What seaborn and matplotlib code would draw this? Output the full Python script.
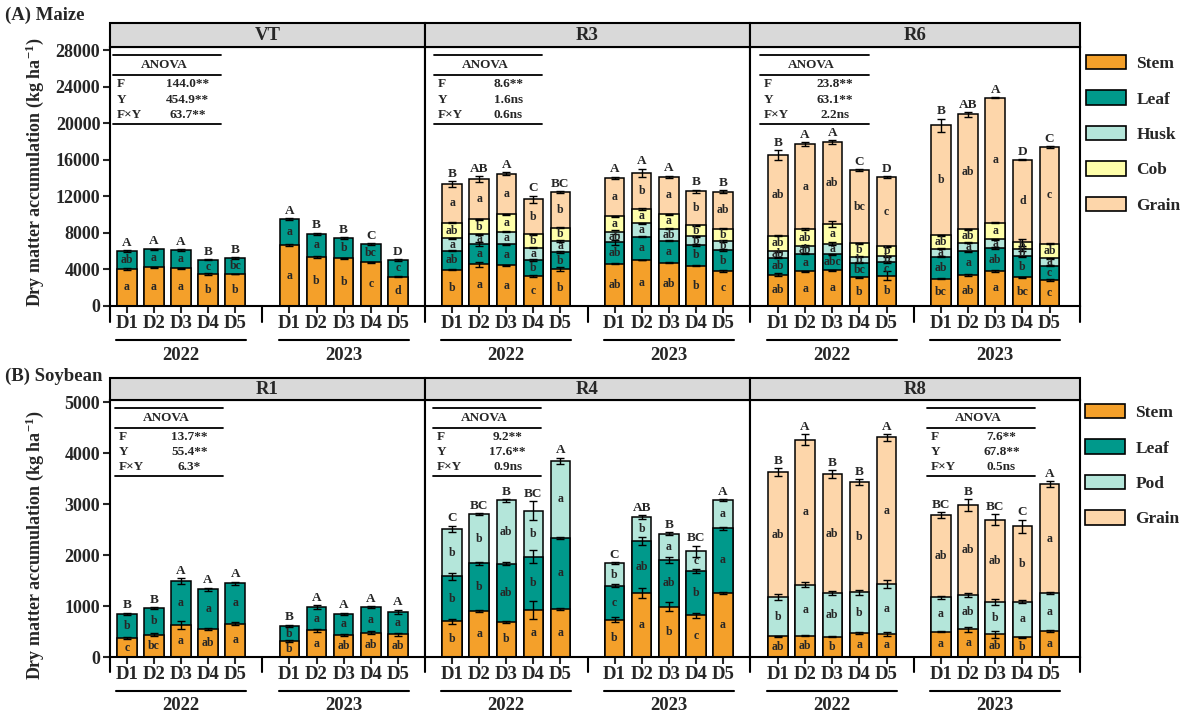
import numpy as np
import pandas as pd
import matplotlib
matplotlib.use("Agg")
import matplotlib.pyplot as plt
import seaborn as sns
from matplotlib.patches import Rectangle, Patch

# ---------------------------------------------------------------- data
DOSES = ["D1", "D2", "D3", "D4", "D5"]
YEARS = ["2022", "2023"]
POS = [0, 1, 2, 3, 4, 6, 7, 8, 9, 10]          # 2022 -> 0..4, 2023 -> 6..10

# Maize, VT
VT_STEM = [4080, 4260, 4150, 3500, 3500, 6670, 5360, 5210, 4770, 3210]
VT_LEAF = [1930, 1930, 1930, 1570, 1750, 2840, 2550, 2220, 1970, 1820]
VT_STEM_ERR = [90, 60, 50, 60, 50, 60, 60, 60, 60, 60]
VT_LEAF_ERR = [120, 90, 110, 80, 80, 120, 100, 90, 100, 90]
VT_STEM_SIG = ["a", "a", "a", "b", "b", "a", "b", "b", "c", "d"]
VT_LEAF_SIG = ["ab", "a", "a", "c", "bc", "a", "a", "b", "bc", "c"]
VT_TOTAL_SIG = ["A", "A", "A", "B", "B", "A", "B", "B", "C", "D"]
VT_ANOVA = ["144.0**", "454.9**", "63.7**"]

# Maize, R3
R3_STEM = [3970, 4550, 4440, 3320, 4010, 4630, 5030, 4740, 4410, 3830]
R3_LEAF = [2080, 2220, 2330, 1710, 1900, 2330, 2550, 2400, 2260, 2260]
R3_HUSK = [1350, 1090, 1350, 1350, 1200, 1170, 1460, 1310, 980, 1020]
R3_COB = [1710, 1640, 1930, 1460, 1460, 1680, 1570, 1600, 1200, 1350]
R3_GRAIN = [4230, 4410, 4440, 3830, 3860, 4230, 3970, 4080, 3680, 4040]
R3_STEM_ERR = [80, 250, 60, 120, 220, 80, 50, 60, 50, 80]
R3_LEAF_ERR = [60, 200, 60, 100, 120, 250, 60, 60, 60, 100]
R3_HUSK_ERR = [60, 60, 60, 60, 60, 200, 60, 60, 60, 60]
R3_COB_ERR = [60, 60, 60, 60, 60, 60, 60, 60, 60, 60]
R3_GRAIN_ERR = [300, 300, 150, 400, 100, 100, 450, 120, 180, 180]
R3_STEM_SIG = ["b", "a", "a", "c", "b", "ab", "a", "ab", "b", "c"]
R3_LEAF_SIG = ["ab", "a", "a", "b", "b", "ab", "a", "a", "b", "b"]
R3_HUSK_SIG = ["a", "a", "a", "a", "a", "ab", "a", "ab", "b", "b"]
R3_COB_SIG = ["ab", "b", "a", "b", "b", "a", "a", "a", "b", "b"]
R3_GRAIN_SIG = ["a", "a", "a", "b", "b", "a", "b", "a", "b", "ab"]
R3_TOTAL_SIG = ["B", "AB", "A", "C", "BC", "A", "A", "A", "B", "B"]
R3_ANOVA = ["8.6**", "1.6ns", "0.6ns"]

# Maize, R6
R6_STEM = [3420, 3790, 3930, 3130, 3320, 2990, 3390, 3830, 3130, 2840]
R6_LEAF = [1860, 1930, 1710, 1600, 1490, 2400, 2620, 2510, 2300, 1570]
R6_HUSK = [730, 840, 1170, 660, 620, 870, 910, 950, 770, 800]
R6_COB = [1680, 1860, 2190, 1490, 1090, 1490, 1460, 1820, 760, 1600]
R6_GRAIN = [8820, 9290, 8930, 7980, 7610, 12020, 12570, 13660, 9040, 10600]
R6_STEM_ERR = [150, 60, 60, 80, 500, 60, 80, 60, 60, 60]
R6_LEAF_ERR = [60, 60, 60, 60, 60, 60, 60, 60, 60, 60]
R6_HUSK_ERR = [60, 60, 150, 60, 60, 60, 60, 60, 150, 60]
R6_COB_ERR = [60, 60, 330, 60, 60, 60, 60, 60, 350, 60]
R6_GRAIN_ERR = [550, 200, 180, 80, 80, 730, 250, 60, 60, 100]
R6_STEM_SIG = ["ab", "a", "a", "b", "b", "bc", "ab", "a", "bc", "c"]
R6_LEAF_SIG = ["ab", "a", "abc", "bc", "c", "ab", "a", "ab", "b", "c"]
R6_HUSK_SIG = ["ab", "ab", "a", "b", "b", "a", "a", "a", "b", "a"]
R6_COB_SIG = ["ab", "ab", "a", "b", "b", "ab", "ab", "a", "b", "ab"]
R6_GRAIN_SIG = ["ab", "a", "ab", "bc", "c", "b", "ab", "a", "d", "c"]
R6_TOTAL_SIG = ["B", "A", "A", "C", "D", "B", "AB", "A", "D", "C"]
R6_ANOVA = ["23.8**", "63.1**", "2.2ns"]

# Soybean, R1
R1_STEM = [370, 440, 630, 545, 655, 310, 520, 430, 475, 445]
R1_LEAF = [480, 520, 860, 785, 790, 295, 460, 420, 505, 445]
R1_STEM_ERR = [15, 25, 75, 20, 35, 15, 20, 15, 30, 30]
R1_LEAF_ERR = [20, 15, 50, 30, 35, 25, 30, 20, 15, 40]
R1_STEM_SIG = ["c", "bc", "a", "ab", "a", "b", "a", "ab", "ab", "ab"]
R1_LEAF_SIG = ["b", "b", "a", "a", "a", "b", "a", "a", "a", "a"]
R1_TOTAL_SIG = ["B", "B", "A", "A", "A", "B", "A", "A", "A", "A"]
R1_ANOVA = ["13.7**", "55.4**", "6.3*"]

# Soybean, R4
R4_STEM = [705, 895, 690, 925, 945, 735, 1250, 990, 815, 1260]
R4_LEAF = [875, 945, 1135, 1045, 1395, 660, 1025, 915, 865, 1265]
R4_POD = [935, 965, 1245, 900, 1505, 440, 475, 510, 390, 550]
R4_STEM_ERR = [50, 20, 15, 180, 15, 55, 100, 90, 50, 20]
R4_LEAF_ERR = [70, 30, 30, 130, 20, 30, 70, 60, 40, 30]
R4_POD_ERR = [60, 20, 30, 185, 60, 20, 35, 30, 115, 20]
R4_STEM_SIG = ["b", "a", "b", "a", "a", "b", "a", "b", "c", "a"]
R4_LEAF_SIG = ["b", "b", "ab", "b", "a", "c", "ab", "ab", "b", "a"]
R4_POD_SIG = ["b", "b", "ab", "b", "a", "b", "b", "a", "c", "a"]
R4_TOTAL_SIG = ["C", "BC", "B", "BC", "A", "C", "AB", "B", "BC", "A"]
R4_ANOVA = ["9.2**", "17.6**", "0.9ns"]

# Soybean, R8
R8_STEM = [410, 415, 395, 480, 455, 500, 540, 445, 390, 505]
R8_POD = [765, 1000, 855, 785, 975, 670, 670, 635, 695, 750]
R8_GRAIN = [2445, 2845, 2340, 2165, 2875, 1610, 1770, 1610, 1480, 2135]
R8_STEM_ERR = [10, 10, 10, 20, 40, 10, 40, 70, 10, 20]
R8_POD_ERR = [60, 50, 40, 50, 80, 30, 40, 60, 30, 10]
R8_GRAIN_ERR = [80, 110, 70, 60, 60, 60, 110, 110, 130, 60]
R8_STEM_SIG = ["ab", "ab", "b", "a", "a", "a", "a", "ab", "b", "a"]
R8_POD_SIG = ["b", "a", "ab", "b", "a", "a", "ab", "b", "a", "a"]
R8_GRAIN_SIG = ["ab", "a", "ab", "b", "a", "ab", "ab", "ab", "b", "a"]
R8_TOTAL_SIG = ["B", "A", "B", "B", "A", "BC", "B", "BC", "C", "A"]
R8_ANOVA = ["7.6**", "67.8**", "0.5ns"]

ANOVA_ROWS = ["F", "Y", "F×Y"]

# ---------------------------------------------------------------- style
C_STEM = "#F4A02A"
C_LEAF = "#00998B"
C_HUSK = "#B4E6DA"
C_COB = "#FFFFAA"
C_GRAIN = "#FDD6AA"

sns.set_style("ticks")
plt.rcParams["font.family"] = ["Liberation Serif", "DejaVu Serif"]
plt.rcParams["font.weight"] = "bold"
plt.rcParams["mathtext.fontset"] = "custom"
plt.rcParams["mathtext.rm"] = "Liberation Serif:bold"
plt.rcParams["mathtext.bf"] = "Liberation Serif:bold"
plt.rcParams["mathtext.default"] = "rm"

W, H = 1189, 722
fig = plt.figure(figsize=(W / 100, H / 100), dpi=100)

X_EDGES = [110, 425, 750, 1080]
XLIMS = [(-0.62, 11.0), (-1.0, 11.0), (-1.03, 11.12)]
BAR_W = 0.72
LW = 1.5


def make_row(top_px, bottom_px):
    row = []
    for i in range(3):
        l = X_EDGES[i] / W
        r = X_EDGES[i + 1] / W
        ax = fig.add_axes([l, 1 - bottom_px / H, r - l, (bottom_px - top_px) / H])
        row.append(ax)
    return row


def stack(ax, layers, total_sig):
    vals = [np.asarray(v, float) for v, _, _, _ in layers]
    cum = np.cumsum(vals, axis=0)
    lower = np.vstack([np.zeros(len(POS)), cum[:-1]])
    # draw the tallest cumulative layer first so lower layers sit on top
    for k in range(len(layers) - 1, -1, -1):
        df = pd.DataFrame({"pos": POS, "dm": cum[k]})
        sns.barplot(data=df, x="pos", y="dm", native_scale=True, orient="x",
                    width=BAR_W, color=layers[k][1], saturation=1,
                    edgecolor="black", linewidth=1.1, errorbar=None,
                    ax=ax, zorder=2)
    for k, (_, _, err, sig) in enumerate(layers):
        ax.errorbar(POS, cum[k], yerr=err, fmt="none", ecolor="black",
                    elinewidth=1.0, capsize=3, capthick=1.0, zorder=4)
        for j, p in enumerate(POS):
            ax.text(p, (lower[k][j] + cum[k][j]) / 2, sig[j], ha="center",
                    va="center", fontsize=8.5, zorder=5)
    top_err = layers[-1][2]
    for j, p in enumerate(POS):
        ax.annotate(total_sig[j], (p, cum[-1][j] + top_err[j]), xytext=(0, 1),
                    textcoords="offset points", ha="center", va="bottom",
                    fontsize=9.5, zorder=5)


def anova(ax, x0, values):
    tr = ax.get_xaxis_transform()
    for yy in (0.969, 0.892, 0.703):
        ax.plot([x0, x0 + 4.0], [yy, yy], color="black", lw=1.3,
                transform=tr, clip_on=False, zorder=6)
    ax.text(x0 + 1.9, 0.930, "ANOVA", transform=tr, ha="center", va="center",
            fontsize=9.5)
    for name, val, yy in zip(ANOVA_ROWS, values, (0.857, 0.797, 0.739)):
        ax.text(x0 + 0.15, yy, name, transform=tr, ha="left", va="center",
                fontsize=9.5)
        ax.text(x0 + 2.75, yy, val, transform=tr, ha="center", va="center",
                fontsize=9.5)


def dress(row, titles, ymax, yticks, hdr):
    for i, ax in enumerate(row):
        ax.set_xlim(*XLIMS[i])
        ax.set_ylim(0, ymax)
        ax.set_xlabel("")
        ax.set_ylabel("")
        ax.set_xticks(POS)
        ax.set_xticklabels(DOSES * 2, fontsize=13.5)
        ax.tick_params(axis="x", length=5, width=LW, direction="out", pad=1.5)
        ax.set_yticks(yticks)
        if i == 0:
            ax.set_yticklabels([str(t) for t in yticks], fontsize=13)
            ax.tick_params(axis="y", length=5, width=LW, direction="out", pad=2)
        else:
            ax.tick_params(axis="y", left=False, labelleft=False)
        for sp in ax.spines.values():
            sp.set_visible(True)
            sp.set_linewidth(LW)
            sp.set_color("black")
        # strip title
        ax.add_patch(Rectangle((0, 1), 1, hdr, transform=ax.transAxes,
                               clip_on=False, facecolor="#D9D9D9",
                               edgecolor="black", lw=LW, zorder=6))
        ax.text(0.5, 1 + hdr / 2, titles[i], transform=ax.transAxes,
                ha="center", va="center", fontsize=13.5, zorder=7)
        tr = ax.get_xaxis_transform()
        # separators below the axis
        ax.plot([5, 5], [0, -0.06], color="black", lw=LW, transform=tr,
                clip_on=False)
        ax.plot([0, 0], [0, -0.06], color="black", lw=LW,
                transform=ax.transAxes, clip_on=False)
        if i == 2:
            ax.plot([1, 1], [0, -0.06], color="black", lw=LW,
                    transform=ax.transAxes, clip_on=False)
        # year brackets
        for g, yr in enumerate(YEARS):
            x0 = 6 * g
            ax.plot([x0 - 0.4, x0 + 4.4], [-0.131, -0.131], color="black",
                    lw=LW, transform=tr, clip_on=False)
            ax.text(x0 + 2, -0.19, yr, transform=tr, ha="center", va="center",
                    fontsize=13.5)


# ---------------------------------------------------------------- maize
top = make_row(47, 306)
stack(top[0], [(VT_STEM, C_STEM, VT_STEM_ERR, VT_STEM_SIG),
               (VT_LEAF, C_LEAF, VT_LEAF_ERR, VT_LEAF_SIG)], VT_TOTAL_SIG)
stack(top[1], [(R3_STEM, C_STEM, R3_STEM_ERR, R3_STEM_SIG),
               (R3_LEAF, C_LEAF, R3_LEAF_ERR, R3_LEAF_SIG),
               (R3_HUSK, C_HUSK, R3_HUSK_ERR, R3_HUSK_SIG),
               (R3_COB, C_COB, R3_COB_ERR, R3_COB_SIG),
               (R3_GRAIN, C_GRAIN, R3_GRAIN_ERR, R3_GRAIN_SIG)], R3_TOTAL_SIG)
stack(top[2], [(R6_STEM, C_STEM, R6_STEM_ERR, R6_STEM_SIG),
               (R6_LEAF, C_LEAF, R6_LEAF_ERR, R6_LEAF_SIG),
               (R6_HUSK, C_HUSK, R6_HUSK_ERR, R6_HUSK_SIG),
               (R6_COB, C_COB, R6_COB_ERR, R6_COB_SIG),
               (R6_GRAIN, C_GRAIN, R6_GRAIN_ERR, R6_GRAIN_SIG)], R6_TOTAL_SIG)
dress(top, ["VT", "R3", "R6"], 28330, list(range(0, 28001, 4000)), 24 / 259)
anova(top[0], -0.52, VT_ANOVA)
anova(top[1], -0.67, R3_ANOVA)
anova(top[2], -0.66, R6_ANOVA)

# ---------------------------------------------------------------- soybean
bot = make_row(400, 657)
stack(bot[0], [(R1_STEM, C_STEM, R1_STEM_ERR, R1_STEM_SIG),
               (R1_LEAF, C_LEAF, R1_LEAF_ERR, R1_LEAF_SIG)], R1_TOTAL_SIG)
stack(bot[1], [(R4_STEM, C_STEM, R4_STEM_ERR, R4_STEM_SIG),
               (R4_LEAF, C_LEAF, R4_LEAF_ERR, R4_LEAF_SIG),
               (R4_POD, C_HUSK, R4_POD_ERR, R4_POD_SIG)], R4_TOTAL_SIG)
stack(bot[2], [(R8_STEM, C_STEM, R8_STEM_ERR, R8_STEM_SIG),
               (R8_POD, C_HUSK, R8_POD_ERR, R8_POD_SIG),
               (R8_GRAIN, C_GRAIN, R8_GRAIN_ERR, R8_GRAIN_SIG)], R8_TOTAL_SIG)
dress(bot, ["R1", "R4", "R8"], 5040, list(range(0, 5001, 1000)), 22 / 257)
anova(bot[0], -0.45, R1_ANOVA)
anova(bot[1], -0.70, R4_ANOVA)
anova(bot[2], 5.48, R8_ANOVA)

# ---------------------------------------------------------------- legends
def legend(names, colors, y_px, x_px):
    handles = [Patch(facecolor=c, edgecolor="black", lw=1.2) for c in colors]
    fig.legend(handles, names, loc="upper left",
               bbox_to_anchor=(x_px / W, 1 - y_px / H), frameon=False,
               fontsize=12.5, handlelength=2.3, handleheight=0.9,
               handletextpad=0.6, labelspacing=1.05, borderaxespad=0,
               borderpad=0)


legend(["Stem", "Leaf", "Husk", "Cob", "Grain"],
       [C_STEM, C_LEAF, C_HUSK, C_COB, C_GRAIN], 55, 1086)
legend(["Stem", "Leaf", "Pod", "Grain"],
       [C_STEM, C_LEAF, C_HUSK, C_GRAIN], 404, 1085)

# ---------------------------------------------------------------- labels
fig.text(5 / W, 1 - 15 / H, "(A) Maize", ha="left", va="center", fontsize=13.5)
fig.text(5 / W, 1 - 376 / H, "(B) Soybean", ha="left", va="center",
         fontsize=13.5)
ylab = "Dry matter accumulation (kg ha$^{-1}$)"
fig.text(35 / W, 1 - 172 / H, ylab, rotation=90, ha="center", va="center",
         fontsize=13)
fig.text(35 / W, 1 - 545 / H, ylab, rotation=90, ha="center", va="center",
         fontsize=13)

fig.savefig("out.png", dpi=100)
